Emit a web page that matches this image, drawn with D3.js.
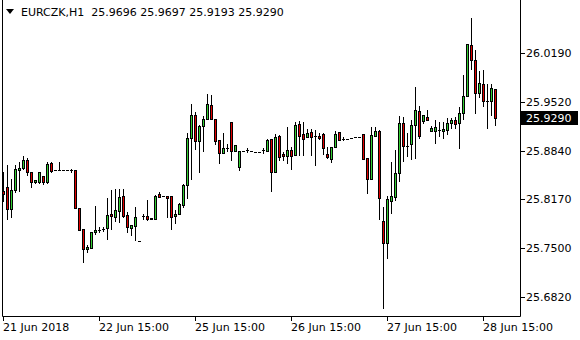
<!DOCTYPE html>
<html>
<head>
<meta charset="utf-8">
<script src="https://cdn.jsdelivr.net/npm/d3@7"></script>
<style>
  body { margin: 0; background: #fff; }
  svg text { font-family: Tahoma, "DejaVu Sans", sans-serif; font-size: 11px; fill: #000; }
</style>
</head>
<body>
<svg width="580" height="340"></svg>
<script>
// EURCZK H1 candles, bar 0 = 21 Jun 2018 15:00
const opens = [25.8288,25.8335,25.8039,25.8294,25.8578,25.8597,25.8708,25.8542,25.8404,25.8412,
  25.8487,25.8404,25.8671,25.8570,25.8570,25.8570,25.8570,25.8570,25.8570,25.8053,
  25.7759,25.7483,25.7492,25.7718,25.7745,25.7766,25.7769,25.7966,25.7921,25.8004,
  25.8211,25.7948,25.7777,25.7805,25.7589,25.7939,25.7939,25.7893,25.7893,25.8243,
  25.8215,25.8215,25.8211,25.7935,25.7970,25.8095,25.8363,25.9016,25.9334,25.8979,
  25.9178,25.9274,25.9472,25.9278,25.8984,25.8813,25.8882,25.9233,25.8832,25.8620,
  25.8836,25.8846,25.8836,25.8827,25.8827,25.8846,25.8841,25.8998,25.8542,25.9044,
  25.8799,25.8767,25.8850,25.8785,25.9209,25.9071,25.9026,25.9095,25.9037,25.9044,
  25.9067,25.8795,25.8722,25.8888,25.9095,25.9006,25.9006,25.9020,25.9030,25.9034,
  25.9067,25.8736,25.8446,25.9048,25.9113,25.7870,25.7570,25.8150,25.8205,25.8528,
  25.9219,25.8905,25.8929,25.9191,25.9385,25.9247,25.9302,25.9109,25.9109,25.9131,
  25.9109,25.9122,25.9219,25.9260,25.9219,25.9357,25.9592,26.0301,26.0089,25.9633,
  25.9758,25.9531,25.9531,25.9696];
const highs = [25.8551,25.8643,25.8450,25.8643,25.8689,25.8767,25.8740,25.8546,25.8436,25.8551,
  25.8495,25.8689,25.8689,25.8570,25.8684,25.8570,25.8570,25.8592,25.8574,25.8053,
  25.7759,25.7538,25.7722,25.8077,25.7791,25.7791,25.8183,25.8298,25.8307,25.8307,
  25.8307,25.7994,25.7821,25.8063,25.7589,25.7970,25.8160,25.7915,25.8229,25.8266,
  25.8215,25.8215,25.8211,25.8022,25.8114,25.8376,25.9089,25.9486,25.9375,25.9196,
  25.9320,25.9624,25.9610,25.9283,25.8988,25.9081,25.8933,25.9237,25.8919,25.8836,
  25.8836,25.8874,25.8836,25.8827,25.8827,25.8874,25.8998,25.8998,25.9067,25.9057,
  25.8827,25.9164,25.8896,25.9237,25.9251,25.9233,25.9136,25.9140,25.9131,25.9081,
  25.9081,25.8896,25.8888,25.9117,25.9095,25.9026,25.9006,25.9020,25.9030,25.9034,
  25.9067,25.8736,25.9168,25.9172,25.9126,25.8067,25.8215,25.8689,25.8850,25.9320,
  25.9310,25.9081,25.9265,25.9720,25.9458,25.9338,25.9403,25.9186,25.9265,25.9233,
  25.9237,25.9292,25.9296,25.9306,25.9444,25.9886,26.0318,26.0673,26.0231,25.9941,
  25.9955,25.9758,25.9762,25.9697];
const lows = [25.8139,25.7893,25.7921,25.8270,25.8288,25.8588,25.8505,25.8335,25.8401,25.8394,
  25.8381,25.8390,25.8551,25.8570,25.8570,25.8570,25.8570,25.8542,25.8049,25.7745,
  25.7299,25.7437,25.7492,25.7686,25.7722,25.7736,25.7625,25.7763,25.7874,25.7860,
  25.7925,25.7722,25.7676,25.7611,25.7589,25.7901,25.7879,25.7893,25.7893,25.8197,
  25.8215,25.7929,25.7755,25.7846,25.7970,25.8067,25.8191,25.8454,25.8864,25.8551,
  25.8841,25.9274,25.9278,25.8933,25.8675,25.8813,25.8841,25.8712,25.8832,25.8574,
  25.8836,25.8823,25.8836,25.8827,25.8827,25.8813,25.8841,25.8288,25.8542,25.8712,
  25.8712,25.8667,25.8584,25.8785,25.8781,25.8781,25.9026,25.8781,25.8643,25.8998,
  25.8795,25.8740,25.8680,25.8888,25.8988,25.8984,25.9006,25.9020,25.9030,25.9034,
  25.8726,25.8252,25.8446,25.9048,25.7893,25.6664,25.7354,25.7976,25.8160,25.8426,
  25.8702,25.8772,25.8722,25.8744,25.9020,25.9227,25.9260,25.9109,25.8951,25.9044,
  25.9020,25.9075,25.9158,25.9150,25.8882,25.9278,25.9592,25.9973,25.9365,25.9586,
  25.9462,25.9158,25.9338,25.9193];
const closes = [25.8243,25.8039,25.8294,25.8588,25.8606,25.8708,25.8542,25.8404,25.8432,25.8542,
  25.8404,25.8653,25.8564,25.8570,25.8570,25.8570,25.8570,25.8570,25.8053,25.7749,
  25.7479,25.7515,25.7713,25.7745,25.7745,25.7766,25.7948,25.7939,25.8022,25.8201,
  25.7939,25.7783,25.7814,25.7925,25.7589,25.7939,25.7893,25.7915,25.8215,25.8205,
  25.8215,25.8183,25.7929,25.7966,25.8100,25.8363,25.9012,25.9334,25.8979,25.9182,
  25.9274,25.9486,25.9283,25.8979,25.8813,25.8874,25.8882,25.8841,25.8915,25.8832,
  25.8836,25.8846,25.8836,25.8827,25.8827,25.8846,25.8988,25.8542,25.9030,25.8749,
  25.8763,25.8850,25.8763,25.9191,25.9048,25.8998,25.9085,25.9034,25.9037,25.9020,
  25.8874,25.8749,25.8888,25.9071,25.8988,25.9006,25.9006,25.9020,25.9030,25.9034,
  25.8726,25.8446,25.9057,25.9113,25.8183,25.7570,25.8173,25.8211,25.8528,25.9219,
  25.8910,25.8905,25.9191,25.9403,25.9044,25.9330,25.9260,25.9150,25.9164,25.9131,
  25.9140,25.9219,25.9260,25.9214,25.9357,25.9592,26.0310,26.0089,25.9633,25.9776,
  25.9523,25.9531,25.9707,25.9290];

const priceTicks = [26.0190, 25.9520, 25.8840, 25.8170, 25.7500, 25.6820];
const timeTickBars = [0, 24, 48, 72, 96, 120];
const timeTickLabels = ["21 Jun 2018", "22 Jun 15:00", "25 Jun 15:00", "26 Jun 15:00", "27 Jun 15:00", "28 Jun 15:00"];
const symbol = "EURCZK,H1";

const svg = d3.select("svg");
const frame = {left: 2, right: 520, top: 0, bottom: 316};

const x = d3.scaleLinear().domain([0, 128]).range([3.5, 515.5]);
const y = d3.scaleLinear().domain([25.6820, 26.0190]).range([297, 53]);
const py = v => Math.round(y(v)) + 0.5;

const bars = d3.range(opens.length).map(i => ({
  i, o: opens[i], h: highs[i], l: lows[i], c: closes[i]
}));

const g = svg.append("g");

// wicks
g.selectAll("line.wick")
  .data(bars)
  .join("line")
  .attr("class", "wick")
  .attr("x1", d => x(d.i)).attr("x2", d => x(d.i))
  .attr("y1", d => py(d.h) - 0.5).attr("y2", d => py(d.l) + 0.5)
  .attr("stroke", "#000").attr("stroke-width", 1);

// bodies
bars.forEach(d => {
  const top = py(Math.max(d.o, d.c)), bot = py(Math.min(d.o, d.c));
  if (bot - top < 1) {
    g.append("line")
      .attr("x1", x(d.i) - 1.5).attr("x2", x(d.i) + 1.5)
      .attr("y1", top).attr("y2", top)
      .attr("stroke", "#000");
  } else {
    g.append("rect")
      .attr("x", x(d.i) - 1).attr("width", 2)
      .attr("y", top).attr("height", bot - top)
      .attr("fill", d.c > d.o ? "#32cd32" : "#e00000")
      .attr("stroke", "#000").attr("stroke-width", 1);
  }
});

// frame
svg.append("path")
  .attr("d", `M${frame.left + 0.5},${frame.top}V${frame.bottom + 0.5}H${frame.right + 0.5}V${frame.top}`)
  .attr("fill", "none").attr("stroke", "#000");

// price axis
const pa = svg.append("g");
priceTicks.forEach(v => {
  pa.append("line")
    .attr("x1", frame.right + 1).attr("x2", frame.right + 5)
    .attr("y1", py(v)).attr("y2", py(v)).attr("stroke", "#000");
  pa.append("text")
    .attr("x", frame.right + 6).attr("y", py(v)).attr("dy", "0.35em")
    .text(v.toFixed(4));
});

// current price marker
const last = closes[closes.length - 1];
pa.append("rect")
  .attr("x", frame.right + 1).attr("y", py(last) - 7.5)
  .attr("width", 57).attr("height", 14).attr("fill", "#000");
pa.append("text")
  .attr("x", frame.right + 6).attr("y", py(last)).attr("dy", "0.35em")
  .style("fill", "#fff")
  .text(last.toFixed(4));

// time axis
const ta = svg.append("g");
timeTickBars.forEach((b, k) => {
  ta.append("line")
    .attr("x1", x(b)).attr("x2", x(b))
    .attr("y1", frame.bottom + 1).attr("y2", frame.bottom + 5).attr("stroke", "#000");
  ta.append("text")
    .attr("x", x(b) - 0.5).attr("y", frame.bottom + 15)
    .text(timeTickLabels[k]);
});

// header
svg.append("path")
  .attr("d", "M6,9H14L10,14Z").attr("fill", "#000");
const lb = bars[bars.length - 1];
svg.append("text")
  .attr("x", 21).attr("y", 16)
  .attr("xml:space", "preserve")
  .text(`${symbol}  ${lb.o.toFixed(4)} ${lb.h.toFixed(4)} ${lb.l.toFixed(4)} ${lb.c.toFixed(4)}`);
</script>
</body>
</html>
